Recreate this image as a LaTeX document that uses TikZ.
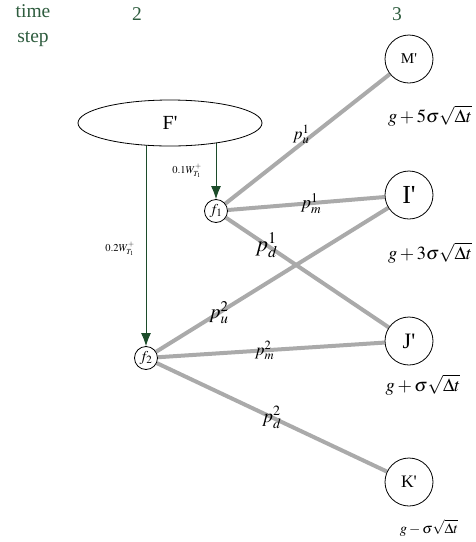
\documentclass[tikz,border=0pt]{standalone}
\usepackage{mathptmx}
\usepackage{fontspec}
\setmainfont{Liberation Serif}
\usepackage{xcolor}
\usepackage{tikz}
\usetikzlibrary{positioning,arrows.meta,shapes.geometric,backgrounds}
\definecolor{stepgreen}{RGB}{46,92,62}
\definecolor{flowgreen}{RGB}{28,76,42}
\definecolor{branchgray}{RGB}{170,170,170}

\begin{document}
\begin{tikzpicture}[x=1pt,y=-1pt,
  state/.style={draw,circle,line width=0.8pt,minimum size=48pt,inner sep=0pt,fill=white},
  sub/.style={draw,circle,line width=0.8pt,minimum size=23pt,inner sep=0pt,fill=white,font=\fontsize{15}{15}\selectfont},
  branch/.style={draw=branchgray,line width=4pt},
  flow/.style={-{Latex[length=13pt,width=10pt]},draw=flowgreen,fill=flowgreen,line width=0.9pt},
  prob/.style={font=\fontsize{17}{17}\selectfont,inner sep=0pt},
  level/.style={font=\fontsize{18.5}{18.5}\selectfont},
  weight/.style={font=\fontsize{10.5}{10.5}\selectfont},
  steplbl/.style={text=stepgreen,font=\fontsize{19.5}{25}\selectfont}]
  \useasboundingbox (0,0) rectangle (475,542);
  % time steps
  \node[steplbl,align=center] (tstep) at (33,26) {time\\step};
  \foreach \x/\t in {137/2,397/3}
    \node[steplbl] (t\t) at (\x,14) {\t};
  % nodes of step 3
  \foreach \y/\name/\sz in {59/M/15,195/I/26,341/J/22,482/K/17.5}
    \node[state,font=\fontsize{\sz}{\sz}\selectfont] (s\name) at (409,\y) {\name\textquotesingle};
  % levels
  \node[level] (vM) at (430,116) {$g+5\sigma\sqrt{\Delta t}$};
  \node[level] (vI) at (430,253) {$g+3\sigma\sqrt{\Delta t}$};
  \node[level] (vJ) at (423,385) {$g+\sigma\sqrt{\Delta t}$};
  \node[level,font=\fontsize{14.5}{14.5}\selectfont] (vK) at (429,528) {$g-\sigma\sqrt{\Delta t}$};
  % step 2
  \node[sub] (f1) at (216,211) {$f_1$};
  \node[sub] (f2) at (146,358) {$f_2$};
  \node[draw,ellipse,line width=0.8pt,minimum width=184pt,minimum height=46pt,fill=white,
        font=\fontsize{20}{20}\selectfont] (F) at (170,123) {F\textquotesingle};
  \begin{scope}[on background layer]
    \draw[flow] (F -| f1) -- (f1);
    \draw[flow] (F -| f2) -- (f2);
    \draw[branch] (f1) -- (sM);
    \draw[branch] (f1) -- (sI);
    \draw[branch] (f1) -- (sJ);
    \draw[branch] (f2) -- (sI);
    \draw[branch] (f2) -- (sJ);
    \draw[branch] (f2) -- (sK);
  \end{scope}
  \path (f1) -- (sM) node[prob,pos=0.47,anchor=south east,xshift=7pt,yshift=-1pt] {$p^{1}_{u}$};
  \path (f1) -- (sI) node[prob,pos=0.53,font=\fontsize{18}{18}\selectfont] {$p^{1}_{m}$};
  \path (f1) -- (sJ) node[prob,pos=0.25,font=\fontsize{22}{22}\selectfont] {$p^{1}_{d}$};
  \path (f2) -- (sI) node[prob,pos=0.27,font=\fontsize{20}{20}\selectfont] {$p^{2}_{u}$};
  \path (f2) -- (sJ) node[prob,pos=0.47] {$p^{2}_{m}$};
  \path (f2) -- (sK) node[prob,pos=0.5,font=\fontsize{19}{19}\selectfont] {$p^{2}_{d}$};
  % weights
  \node[weight] (w1) at (187,171) {$0.1W^{+}_{T_1}$};
  \node[weight] (w2) at (120,249) {$0.2W^{+}_{T_1}$};
\end{tikzpicture}
\end{document}
